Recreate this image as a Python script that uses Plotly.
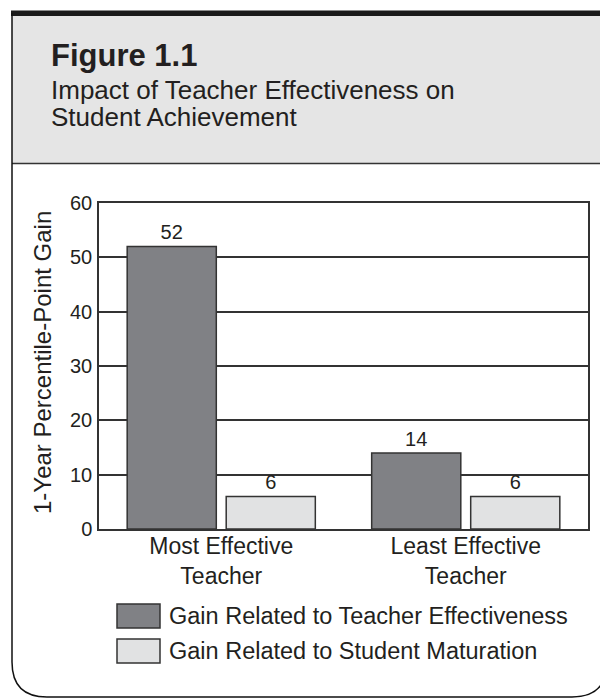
import plotly.graph_objects as go

# data
categories = ["Most Effective<br>Teacher", "Least Effective<br>Teacher"]
series_names = ["Gain Related to Teacher Effectiveness", "Gain Related to Student Maturation"]
teacher_gain = [52, 14]
maturation_gain = [6, 6]
y_ticks = [0, 10, 20, 30, 40, 50, 60]

fig_title = "Figure 1.1"
fig_subtitle = ["Impact of Teacher Effectiveness on", "Student Achievement"]
y_title = "1-Year Percentile-Point Gain"

DARK = "#808185"
LIGHT = "#e1e2e3"
EDGE = "#333333"
INK = "#231f20"
FONT = "Liberation Sans, Arial, sans-serif"

# the page body has an 8px margin, so the figure is a bit smaller than the window
OFF = 8
W, H = 600, 690
ML, MR, MT, MB = 91, 20, 195, 169
PW, PH = W - ML - MR, H - MT - MB


# helpers: window pixel position -> paper coordinates
def fx(px):
    return (px - OFF - ML) / PW


def fy(py):
    return (H - MB - (py - OFF)) / PH


fig = go.Figure()

fig.add_trace(go.Bar(
    x=categories,
    y=teacher_gain,
    name=series_names[0],
    marker=dict(color=DARK, line=dict(color=EDGE, width=1.5)),
    text=[str(v) for v in teacher_gain],
    textposition="outside",
    textfont=dict(size=20, color=INK, family=FONT),
    cliponaxis=False,
    showlegend=False,
))
fig.add_trace(go.Bar(
    x=categories,
    y=maturation_gain,
    name=series_names[1],
    marker=dict(color=LIGHT, line=dict(color=EDGE, width=1.5)),
    text=[str(v) for v in maturation_gain],
    textposition="outside",
    textfont=dict(size=20, color=INK, family=FONT),
    cliponaxis=False,
    showlegend=False,
))

shapes = []
# header band
shapes.append(dict(type="rect", xref="paper", yref="paper",
                   x0=fx(12), x1=fx(608), y0=fy(163), y1=fy(16),
                   fillcolor="#e5e5e5", line=dict(width=0), layer="below"))
shapes.append(dict(type="rect", xref="paper", yref="paper",
                   x0=fx(11), x1=fx(608), y0=fy(16), y1=fy(10.5),
                   fillcolor="#1a1a1a", line=dict(width=0)))
shapes.append(dict(type="line", xref="paper", yref="paper",
                   x0=fx(12), x1=fx(608), y0=fy(163.5), y1=fy(163.5),
                   line=dict(color=EDGE, width=1.5)))
# outer frame with rounded bottom corners
path = (
    f"M{fx(12)},{fy(13)} L{fx(12)},{fy(662)} "
    f"Q{fx(12)},{fy(697)} {fx(47)},{fy(697)} "
    f"L{fx(572)},{fy(697)} "
    f"Q{fx(607)},{fy(697)} {fx(607)},{fy(662)} "
    f"L{fx(607)},{fy(13)}"
)
shapes.append(dict(type="path", xref="paper", yref="paper", path=path,
                   line=dict(color="#111111", width=1.5)))

# legend swatches
legend_rows = [616, 651]
for name, color, yc in zip(series_names, [DARK, LIGHT], legend_rows):
    shapes.append(dict(type="rect", xref="paper", yref="paper",
                       x0=fx(117), x1=fx(160), y0=fy(yc + 12), y1=fy(yc - 12),
                       fillcolor=color, line=dict(color=EDGE, width=1.5)))

annotations = [
    dict(text=f"<b>{fig_title}</b>", x=fx(49), y=fy(56), xref="paper", yref="paper",
         xanchor="left", yanchor="middle", showarrow=False,
         font=dict(size=31, color=INK, family=FONT)),
    dict(text=fig_subtitle[0], x=fx(49), y=fy(90), xref="paper", yref="paper",
         xanchor="left", yanchor="middle", showarrow=False,
         font=dict(size=26, color=INK, family=FONT)),
    dict(text=fig_subtitle[1], x=fx(49), y=fy(117), xref="paper", yref="paper",
         xanchor="left", yanchor="middle", showarrow=False,
         font=dict(size=26, color=INK, family=FONT)),
    dict(text=y_title, x=fx(42), y=fy(363), xref="paper", yref="paper",
         xanchor="center", yanchor="middle", textangle=-90, showarrow=False,
         font=dict(size=24, color=INK, family=FONT)),
]
for name, yc in zip(series_names, legend_rows):
    annotations.append(dict(text=name, x=fx(167), y=fy(yc), xref="paper", yref="paper",
                            xanchor="left", yanchor="middle", showarrow=False,
                            font=dict(size=23.5, color=INK, family=FONT)))

fig.update_layout(
    width=W,
    height=H,
    margin=dict(l=ML, r=MR, t=MT, b=MB, pad=0),
    paper_bgcolor="white",
    plot_bgcolor="white",
    barmode="group",
    bargap=0.19,
    bargroupgap=0.1,
    showlegend=False,
    font=dict(family=FONT, color=INK),
    xaxis=dict(
        type="category",
        showgrid=False,
        showline=True,
        linecolor=EDGE,
        linewidth=1.5,
        mirror=True,
        ticks="",
        tickfont=dict(size=23, color=INK),
        ticklabelstandoff=-4,
        fixedrange=True,
    ),
    yaxis=dict(
        range=[0, 60],
        tickvals=y_ticks,
        showgrid=True,
        gridcolor=EDGE,
        gridwidth=1.5,
        zeroline=False,
        showline=True,
        linecolor=EDGE,
        linewidth=1.5,
        mirror=True,
        ticks="",
        tickfont=dict(size=20, color=INK),
        ticklabelstandoff=1,
        fixedrange=True,
    ),
    shapes=shapes,
    annotations=annotations,
)

fig.write_html("out.html")
